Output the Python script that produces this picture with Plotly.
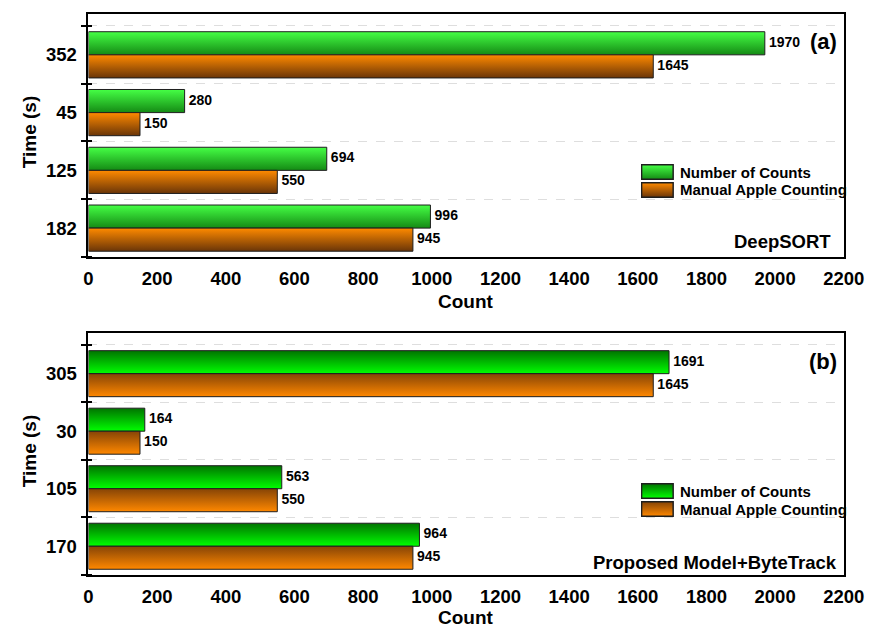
import base64
import plotly.graph_objects as go

# ---- data -------------------------------------------------------------
times_a = ["352", "45", "125", "182"]
counts_a = [1970, 280, 694, 996]
manual_a = [1645, 150, 550, 945]

times_b = ["305", "30", "105", "170"]
counts_b = [1691, 164, 563, 964]
manual_b = [1645, 150, 550, 945]

x_ticks = [0, 200, 400, 600, 800, 1000, 1200, 1400, 1600, 1800, 2000, 2200]
series_names = ["Number of Counts", "Manual Apple Counting"]

# ---- styling ----------------------------------------------------------
FONT = "Liberation Sans, Arial, sans-serif"
W, H = 891, 629
EDGE = "#1e1e1e"

# (top colour, bottom colour) of each bar gradient
green_a = ("#45ff45", "#148a14")
orange_a = ("#ff8a00", "#6a3508")
green_b = ("#007400", "#00ff00")
orange_b = ("#864406", "#ff8800")

HALF = 0.4          # height of one bar, in category units
X_DOM = [86 / W, 864 / W]


def py(px):
    """Convert a pixel row to a paper fraction."""
    return 1 - px / H


def px_(px):
    return px / W


fig = go.Figure()


def add_bars(xa, ya, ya_over, times, counts, manual, g_cols, o_cols):
    n = len(times)
    for i in range(n):
        c = n - 1 - i
        for val, lo, hi, cols in ((counts[i], c, c + HALF, g_cols),
                                  (manual[i], c - HALF, c, o_cols)):
            fig.add_trace(go.Scatter(
                x=[0, val, val, 0, 0], y=[lo, lo, hi, hi, lo],
                xaxis=xa, yaxis=ya, mode="lines", fill="toself",
                line=dict(color=EDGE, width=1),
                fillgradient=dict(type="vertical",
                                  colorscale=[[0, cols[1]], [1, cols[0]]]),
                showlegend=False, hoverinfo="skip"))
    centers = [n - 1 - i for i in range(n)]
    # value labels; the invisible marker pushes each label off the bar end
    fig.add_trace(go.Scatter(
        x=counts + manual,
        y=[c + HALF / 2 for c in centers] + [c - HALF / 2 for c in centers],
        text=[str(v) for v in counts + manual],
        mode="markers+text", textposition="middle right",
        marker=dict(size=5, opacity=0),
        textfont=dict(family=FONT, size=14, color="black", weight="bold"),
        xaxis=xa, yaxis=ya_over, showlegend=False, hoverinfo="skip"))


add_bars("x", "y", "y3", times_a, counts_a, manual_a, green_a, orange_a)
add_bars("x2", "y2", "y4", times_b, counts_b, manual_b, green_b, orange_b)

tick_font = dict(family=FONT, size=18.5, color="black", weight="bold")
bounds = [-0.5, 0.5, 1.5, 2.5, 3.5]


def xaxis_cfg(anchor):
    return dict(domain=X_DOM, anchor=anchor, range=[0, 2200],
                tickmode="array", tickvals=x_ticks, ticks="",
                showline=True, linecolor="black", linewidth=2, mirror=True,
                showgrid=False, zeroline=False, tickfont=tick_font,
                ticklabelstandoff=4)


def yaxis_cfg(anchor, dom, rng, labels):
    n = len(labels)
    return dict(domain=dom, anchor=anchor, range=rng,
                tickmode="array", tickvals=[n - 1 - i for i in range(n)],
                ticktext=labels, ticks="", tickfont=tick_font,
                showline=True, linecolor="black", linewidth=2, mirror=True,
                showgrid=False, zeroline=False, ticklabelstandoff=6,
                minor=dict(tickmode="array", tickvals=bounds, ticks="outside",
                           ticklen=5, tickwidth=2, tickcolor="black",
                           showgrid=True, gridcolor="#dedede",
                           griddash="dash", gridwidth=1))


def yover_cfg(base, anchor, dom, rng):
    return dict(domain=dom, anchor=anchor, range=rng, overlaying=base,
                showticklabels=False, showgrid=False, zeroline=False,
                showline=False, ticks="",
                minor=dict(tickmode="array", tickvals=bounds, ticks="inside",
                           ticklen=4, tickwidth=2, tickcolor="black",
                           showgrid=False))


dom_a = [py(257), py(14)]
dom_b = [py(575), py(333)]
rng = [-0.5, 3.707]

fig.update_layout(
    width=W, height=H,
    margin=dict(l=0, r=0, t=0, b=0),
    paper_bgcolor="white", plot_bgcolor="white",
    showlegend=False,
    xaxis=xaxis_cfg("y"),
    yaxis=yaxis_cfg("x", dom_a, rng, times_a),
    xaxis2=xaxis_cfg("y2"),
    yaxis2=yaxis_cfg("x2", dom_b, rng, times_b),
    yaxis3=yover_cfg("y", "x", dom_a, rng),
    yaxis4=yover_cfg("y2", "x2", dom_b, rng),
)


def swatch(top, bottom):
    svg = ("<svg xmlns='http://www.w3.org/2000/svg' width='34' height='16'>"
           "<defs><linearGradient id='g' x1='0' y1='0' x2='0' y2='1'>"
           f"<stop offset='0' stop-color='{top}'/>"
           f"<stop offset='1' stop-color='{bottom}'/>"
           "</linearGradient></defs>"
           "<rect x='0.75' y='0.75' width='32.5' height='14.5' fill='url(#g)' "
           f"stroke='{EDGE}' stroke-width='1.5'/></svg>")
    return "data:image/svg+xml;base64," + base64.b64encode(svg.encode()).decode()


images = []
annotations = []
legend_rows = [((164, 182), (green_a, orange_a)), ((483, 501), (green_b, orange_b))]
for (r1, r2), (gc, oc) in legend_rows:
    for row, cols, name in ((r1, gc, series_names[0]), (r2, oc, series_names[1])):
        images.append(dict(source=swatch(*cols), xref="paper", yref="paper",
                           x=px_(655), y=py(row), sizex=34 / W, sizey=16 / H,
                           sizing="stretch", xanchor="left", yanchor="top",
                           layer="above"))
        annotations.append(dict(text=name, xref="paper", yref="paper",
                                x=px_(693), y=py(row + 8), xanchor="left",
                                yanchor="middle", showarrow=False,
                                font=dict(family=FONT, size=15, color="black",
                                          weight="bold")))

big = dict(family=FONT, size=22, color="black", weight="bold")
mid = dict(family=FONT, size=18.5, color="black", weight="bold")
title_font = dict(family=FONT, size=19, color="black", weight="bold")

annotations += [
    dict(text="(a)", x=px_(859), y=py(41), xanchor="right", yanchor="middle",
         font=big),
    dict(text="(b)", x=px_(859), y=py(361), xanchor="right", yanchor="middle",
         font=big),
    dict(text="DeepSORT", x=px_(853), y=py(242), xanchor="right",
         yanchor="middle", font=mid),
    dict(text="Proposed Model+ByteTrack", x=px_(859), y=py(562),
         xanchor="right", yanchor="middle", font=mid),
    dict(text="Count", x=px_(475), y=py(301), xanchor="center",
         yanchor="middle", font=title_font),
    dict(text="Count", x=px_(475), y=py(617), xanchor="center",
         yanchor="middle", font=title_font),
    dict(text="Time (s)", x=px_(25), y=py(132), xanchor="center",
         yanchor="middle", textangle=-90, font=title_font),
    dict(text="Time (s)", x=px_(25), y=py(451), xanchor="center",
         yanchor="middle", textangle=-90, font=title_font),
]
for a in annotations:
    a.setdefault("xref", "paper")
    a.setdefault("yref", "paper")
    a.setdefault("showarrow", False)

fig.update_layout(images=images, annotations=annotations)

fig.write_html("out.html")
